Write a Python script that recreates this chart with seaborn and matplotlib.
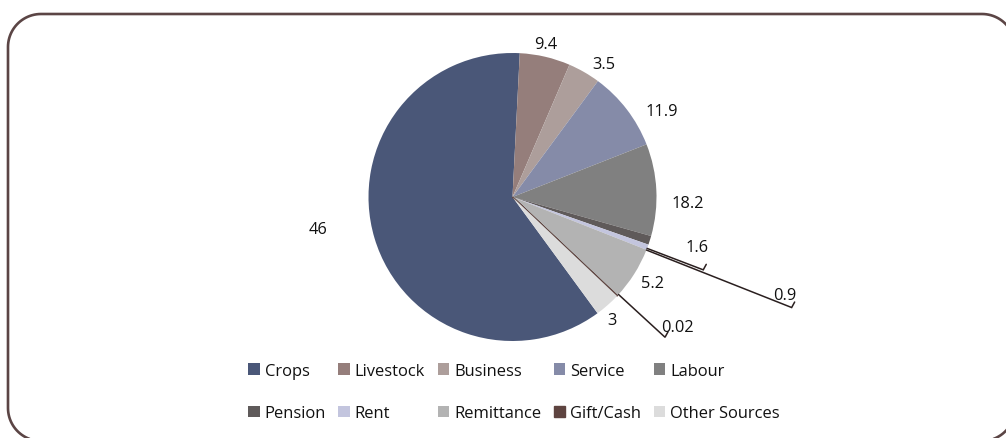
import numpy as np
import matplotlib
matplotlib.use("Agg")
import matplotlib.pyplot as plt
import seaborn as sns

# ---------------- data ----------------
categories = ["Crops", "Livestock", "Business", "Service", "Labour",
              "Pension", "Rent", "Remittance", "Gift/Cash", "Other Sources"]
# printed data labels
values = [46, 9.4, 3.5, 11.9, 18.2, 1.6, 0.9, 5.2, 0.02, 3]
# slice shares as drawn in the picture (percent of the circle)
shares = [60.9, 5.67, 3.64, 8.94, 10.33, 1.0, 0.61, 6.04, 0.06, 2.875]
colors = ["#4a5778", "#957e7b", "#ad9e9b", "#858ba8", "#808080",
          "#5f5a5a", "#c3c5de", "#b3b3b3", "#5e4440", "#dcdcdc"]

# ---------------- layout ----------------
W, H = 1006, 439
CX, CY, R = 512.5, H - 198.0, 144.0
START = -53.8
# label placement: (radius factor, angle offset from wedge middle) for plain labels
plain_lab = {0: (1.369, -7.3), 1: (1.088, 0.85), 2: (1.121, -4.5),
             3: (1.198, -7.5), 4: (1.219, -4.7), 7: (1.142, 0.7), 9: (1.099, -2.4)}
# leader labels: angle, end radius factor, text offset (px) from line end
leader_lab = {5: (-20.9, 1.418, (-6.3, 22.7)),
              6: (-21.6, 2.085, (-6.7, 12.3)),
              8: (-42.6, 1.439, (12.0, 10.3))}
FONT = 11.8
LEGFONT = 11.9
# outer frame (pixels, y up): left, right, bottom, top, corner radius
FL, FR, FB, FT, FRAD = 8, 1015, -3, H - 15, 33

sns.set_theme(style="white")
plt.rcParams["font.family"] = ["Open Sans", "DejaVu Sans"]

fig = plt.figure(figsize=(W / 100, H / 100), dpi=100)
ax = fig.add_axes([0, 0, 1, 1])

wedges, _ = ax.pie(shares, colors=colors, startangle=START, counterclock=False,
                   center=(CX, CY), radius=R, frame=True,
                   wedgeprops=dict(linewidth=0))
wedges[8].set_edgecolor(colors[8])
wedges[8].set_linewidth(1.0)
ax.set_xlim(0, W)
ax.set_ylim(0, H)
ax.set_aspect("equal")
ax.axis("off")

def fmt(v):
    return f"{v:g}"

for i, (rf, dth) in plain_lab.items():
    w = wedges[i]
    mid = np.deg2rad((w.theta1 + w.theta2) / 2 + dth)
    ax.text(CX + rf * R * np.cos(mid), CY + rf * R * np.sin(mid), fmt(values[i]),
            ha="center", va="center", fontsize=FONT, color="#111111")

for i, (ang, rf, (ox, oy)) in leader_lab.items():
    a = np.deg2rad(ang)
    x0, y0 = CX + R * np.cos(a), CY + R * np.sin(a)
    x1, y1 = CX + rf * R * np.cos(a), CY + rf * R * np.sin(a)
    ax.plot([x0, x1, x1 + 3.0], [y0, y1, y1 + 5.5], color="#2a1f1f", lw=1.1,
            solid_joinstyle="miter")
    ax.text(x1 + ox, y1 + oy, fmt(values[i]), ha="center", va="center",
            fontsize=FONT, color="#111111")

# legend filled row by row (matplotlib fills column by column)
ncol = 5
order = [r * ncol + c for c in range(ncol) for r in range(2)]
leg = ax.legend([wedges[k] for k in order], [categories[k] for k in order],
                ncol=ncol, frameon=False, fontsize=LEGFONT,
                loc="upper left", bbox_to_anchor=(248 / W, 1 - 364 / H),
                bbox_transform=fig.transFigure, borderpad=0, borderaxespad=0,
                handlelength=0.7, handleheight=0.7, handletextpad=0.3,
                columnspacing=0.75, labelspacing=1.58)
for t in leg.get_texts():
    t.set_color("#111111")

# rounded outer frame running off the right and bottom edges
def corner(cx, cy, a0, a1, n=24):
    t = np.deg2rad(np.linspace(a0, a1, n))
    return cx + FRAD * np.cos(t), cy + FRAD * np.sin(t)

segs = [corner(FR - FRAD, FT - FRAD, 0, 90), corner(FL + FRAD, FT - FRAD, 90, 180),
        corner(FL + FRAD, FB + FRAD, 180, 270), corner(FR - FRAD, FB + FRAD, 270, 360)]
fx = np.concatenate([s[0] for s in segs] + [segs[0][0][:1]])
fy = np.concatenate([s[1] for s in segs] + [segs[0][1][:1]])
ax.plot(fx, fy, color="#5b4545", lw=1.9, clip_on=False, solid_capstyle="butt")

fig.savefig("out.png", dpi=100, facecolor="white")
